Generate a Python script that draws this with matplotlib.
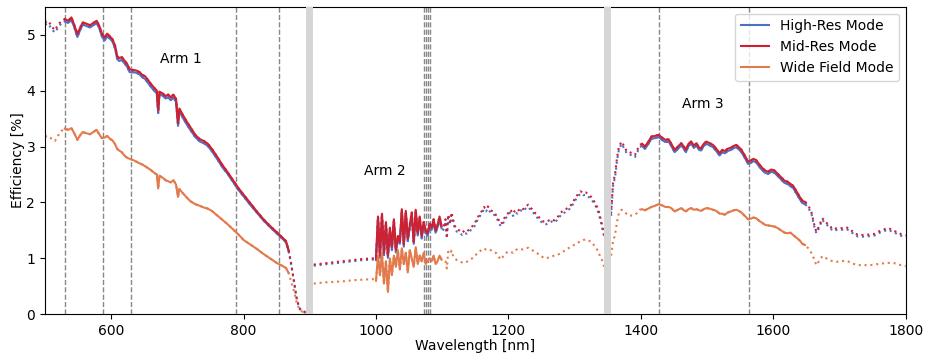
import numpy as np
import matplotlib
matplotlib.use("Agg")
import matplotlib.pyplot as plt

# ---- data ----
wl_arm1 = [500, 505, 510, 515, 520, 525,
           530, 535, 540, 545, 549, 553, 557, 562, 568, 573,
           578, 582, 586, 590, 594, 598, 602, 606, 609, 612,
           616, 620, 624, 628, 633, 638, 643, 647, 651, 655,
           660, 665, 669, 671, 673, 678, 682, 686, 690, 694,
           698, 701, 703, 708, 714, 720, 727, 734, 740, 746,
           752, 760, 768, 776, 784, 792, 800, 810, 820, 830,
           840, 850, 858, 864, 868, 872, 876, 880, 884, 888,
           894]
mid_arm1 = [5.22, 5.25, 5.15, 5.08, 5.18, 5.25,
            5.28, 5.25, 5.31, 5.15, 5.01, 5.12, 5.22, 5.20, 5.17, 5.21,
            5.25, 5.16, 5.02, 4.95, 5.02, 4.97, 4.92, 4.80, 4.62, 4.58,
            4.60, 4.54, 4.48, 4.38, 4.37, 4.36, 4.33, 4.28, 4.26, 4.20,
            4.12, 4.05, 4.00, 3.65, 3.98, 3.95, 3.90, 3.93, 3.88, 3.93,
            3.85, 3.42, 3.68, 3.57, 3.45, 3.34, 3.21, 3.13, 3.10, 3.05,
            2.96, 2.82, 2.67, 2.54, 2.40, 2.26, 2.14, 1.99, 1.84, 1.70,
            1.58, 1.47, 1.38, 1.31, 1.15, 0.90, 0.60, 0.30, 0.12, 0.06,
            0.04]
high_arm1 = [5.18, 5.20, 5.10, 5.04, 5.13, 5.21,
             5.24, 5.21, 5.27, 5.11, 4.96, 5.08, 5.18, 5.16, 5.13, 5.17,
             5.21, 5.12, 4.97, 4.90, 4.97, 4.93, 4.88, 4.75, 4.57, 4.53,
             4.55, 4.49, 4.43, 4.33, 4.33, 4.32, 4.29, 4.24, 4.21, 4.15,
             4.07, 4.00, 3.95, 3.60, 3.94, 3.91, 3.86, 3.88, 3.83, 3.88,
             3.80, 3.37, 3.63, 3.52, 3.40, 3.29, 3.17, 3.09, 3.06, 3.01,
             2.92, 2.78, 2.63, 2.51, 2.37, 2.23, 2.11, 1.96, 1.82, 1.68,
             1.56, 1.45, 1.36, 1.29, 1.13, 0.88, 0.59, 0.29, 0.11, 0.05,
             0.03]
wide_arm1 = [3.18, 3.19, 3.14, 3.10, 3.20, 3.28,
             3.32, 3.30, 3.33, 3.22, 3.12, 3.20, 3.26, 3.24, 3.22, 3.26,
             3.30, 3.22, 3.15, 3.16, 3.19, 3.14, 3.11, 3.04, 2.96, 2.93,
             2.90, 2.84, 2.80, 2.78, 2.76, 2.73, 2.70, 2.68, 2.65, 2.62,
             2.58, 2.53, 2.50, 2.25, 2.48, 2.44, 2.40, 2.38, 2.36, 2.40,
             2.32, 2.10, 2.24, 2.17, 2.09, 2.02, 1.97, 1.94, 1.91, 1.89,
             1.85, 1.77, 1.69, 1.61, 1.52, 1.43, 1.33, 1.25, 1.17, 1.08,
             1.00, 0.92, 0.87, 0.83, 0.74, 0.58, 0.42, 0.22, 0.10, 0.05,
             0.03]

wl_arm2 = [906, 920, 935, 950, 965, 980, 995,
           1000, 1003, 1006, 1009, 1012, 1015, 1018, 1021, 1024, 1027,
           1030, 1033, 1036, 1039, 1042, 1045, 1048, 1051, 1054, 1057,
           1060, 1063, 1066, 1069, 1072, 1075, 1078, 1081, 1084, 1087,
           1090, 1093, 1096, 1099,
           1102, 1105, 1107, 1109, 1112, 1114, 1116, 1119, 1122, 1126,
           1130, 1134, 1137, 1141, 1145, 1149, 1152, 1156, 1160, 1163,
           1166, 1169, 1173, 1177, 1181, 1184, 1188, 1191, 1195, 1199,
           1203, 1207, 1210, 1214, 1218, 1222, 1226, 1230, 1234, 1237,
           1241, 1245, 1249, 1253, 1257, 1261, 1265, 1269, 1273, 1277,
           1281, 1285, 1289, 1293, 1297, 1301, 1305, 1309, 1313, 1317,
           1321, 1325, 1329, 1333, 1337, 1341, 1345]
mid_arm2 = [0.89, 0.91, 0.93, 0.95, 0.97, 0.99, 1.00,
            1.00, 1.75, 1.05, 1.80, 1.10, 1.65, 1.05, 1.55, 1.20, 1.70,
            1.15, 1.40, 1.30, 1.88, 1.25, 1.85, 1.35, 1.60, 1.82, 1.30,
            1.87, 1.45, 1.75, 1.40, 1.65, 1.50, 1.45, 1.62, 1.55, 1.70,
            1.50, 1.60, 1.75, 1.58,
            1.55, 1.70, 1.40, 1.78, 1.65, 1.82, 1.72, 1.58, 1.52, 1.50,
            1.46, 1.50, 1.48, 1.52, 1.57, 1.62, 1.70, 1.78, 1.85, 1.92,
            1.88, 1.93, 1.86, 1.84, 1.78, 1.72, 1.62, 1.64, 1.75, 1.80,
            1.87, 1.80, 1.86, 1.84, 1.90, 1.88, 1.93, 1.96, 1.90, 1.87,
            1.80, 1.75, 1.70, 1.66, 1.65, 1.68, 1.70, 1.68, 1.72, 1.78,
            1.84, 1.86, 1.90, 1.93, 2.00, 2.08, 2.15, 2.20, 2.17, 2.18,
            2.14, 2.10, 2.03, 1.95, 1.82, 1.62, 1.40]
high_arm2 = [0.87, 0.89, 0.91, 0.93, 0.95, 0.97, 0.98,
             0.97, 1.70, 1.01, 1.75, 1.06, 1.60, 1.01, 1.50, 1.15, 1.65,
             1.11, 1.36, 1.26, 1.83, 1.21, 1.80, 1.31, 1.55, 1.77, 1.26,
             1.82, 1.41, 1.70, 1.36, 1.60, 1.46, 1.41, 1.57, 1.51, 1.65,
             1.46, 1.56, 1.70, 1.54,
             1.51, 1.66, 1.36, 1.74, 1.61, 1.78, 1.68, 1.54, 1.48, 1.46,
             1.42, 1.46, 1.44, 1.48, 1.53, 1.58, 1.66, 1.74, 1.81, 1.88,
             1.84, 1.89, 1.82, 1.80, 1.74, 1.68, 1.58, 1.60, 1.71, 1.76,
             1.83, 1.76, 1.82, 1.80, 1.86, 1.84, 1.89, 1.92, 1.86, 1.83,
             1.76, 1.71, 1.66, 1.62, 1.61, 1.64, 1.66, 1.64, 1.68, 1.74,
             1.80, 1.82, 1.86, 1.89, 1.96, 2.04, 2.11, 2.16, 2.13, 2.14,
             2.10, 2.06, 1.99, 1.91, 1.78, 1.58, 1.37]
wide_arm2 = [0.55, 0.57, 0.58, 0.59, 0.61, 0.62, 0.63,
             0.60, 1.05, 0.70, 1.10, 0.55, 0.95, 0.40, 1.00, 0.70, 1.05,
             0.85, 1.15, 0.80, 1.18, 0.90, 1.10, 0.75, 1.15, 1.00, 0.85,
             1.20, 0.90, 1.05, 0.95, 1.10, 0.90, 0.95, 1.00, 0.95, 1.05,
             0.90, 0.95, 1.05, 0.98,
             0.98, 0.95, 0.82, 1.12, 1.08, 1.14, 1.06, 1.00, 0.97, 0.94,
             0.93, 0.95, 0.94, 0.97, 1.00, 1.03, 1.08, 1.12, 1.16, 1.18,
             1.16, 1.17, 1.15, 1.12, 1.10, 1.06, 0.98, 1.02, 1.08, 1.12,
             1.12, 1.10, 1.14, 1.17, 1.17, 1.16, 1.18, 1.19, 1.16, 1.14,
             1.11, 1.08, 1.05, 1.01, 1.00, 1.02, 1.03, 1.05, 1.06, 1.08,
             1.11, 1.14, 1.17, 1.20, 1.23, 1.25, 1.28, 1.31, 1.33, 1.34,
             1.32, 1.30, 1.24, 1.18, 1.08, 0.98, 0.84]

wl_arm3 = [1355, 1358, 1361, 1364, 1367, 1371, 1375, 1379, 1383, 1387,
           1391, 1395, 1398, 1402, 1406, 1411, 1416, 1421, 1427, 1432,
           1437, 1442, 1446, 1451, 1456, 1461, 1465, 1468, 1472, 1476,
           1480, 1484, 1488, 1491, 1495, 1499, 1504, 1509, 1514, 1519,
           1523, 1527, 1531, 1536, 1540, 1544, 1548, 1552, 1557, 1562,
           1566, 1570, 1574, 1579, 1584, 1588, 1592, 1597, 1602, 1607,
           1612, 1617, 1622, 1626, 1630, 1635, 1640, 1644, 1648, 1653,
           1658, 1662, 1665, 1669, 1674, 1679, 1684, 1690, 1696, 1703,
           1710, 1716, 1722, 1728, 1734, 1740, 1746, 1753, 1759, 1765,
           1770, 1775, 1780, 1785, 1790, 1796, 1800]
mid_arm3 = [1.80, 2.35, 2.50, 2.80, 3.00, 3.09, 3.00, 2.91, 2.90, 2.88,
            2.85, 2.95, 3.03, 3.05, 3.00, 3.08, 3.18, 3.19, 3.21, 3.16,
            3.12, 3.13, 3.05, 2.94, 3.00, 3.06, 3.00, 2.94, 3.05, 3.09,
            3.02, 3.06, 2.98, 2.97, 3.05, 3.09, 3.06, 3.03, 2.96, 2.88,
            2.94, 2.92, 2.96, 2.98, 3.01, 3.03, 2.99, 2.94, 2.84, 2.73,
            2.75, 2.78, 2.76, 2.68, 2.61, 2.57, 2.55, 2.59, 2.57, 2.51,
            2.45, 2.39, 2.37, 2.33, 2.30, 2.20, 2.10, 2.03, 2.01, 1.95,
            1.81, 1.60, 1.48, 1.57, 1.72, 1.65, 1.60, 1.52, 1.54, 1.54,
            1.56, 1.52, 1.46, 1.42, 1.42, 1.42, 1.43, 1.44, 1.48, 1.51,
            1.53, 1.54, 1.50, 1.48, 1.45, 1.42, 1.41]
high_arm3 = [1.76, 2.30, 2.45, 2.75, 2.95, 3.05, 2.96, 2.87, 2.86, 2.84,
             2.81, 2.91, 2.99, 3.01, 2.96, 3.04, 3.14, 3.15, 3.17, 3.12,
             3.08, 3.09, 3.01, 2.90, 2.96, 3.02, 2.96, 2.90, 3.01, 3.05,
             2.98, 3.02, 2.94, 2.93, 3.01, 3.05, 3.02, 2.99, 2.92, 2.84,
             2.90, 2.88, 2.92, 2.94, 2.97, 2.99, 2.95, 2.90, 2.80, 2.69,
             2.71, 2.74, 2.72, 2.64, 2.57, 2.53, 2.51, 2.55, 2.53, 2.47,
             2.41, 2.35, 2.33, 2.29, 2.26, 2.16, 2.06, 1.99, 1.97, 1.91,
             1.78, 1.57, 1.45, 1.54, 1.69, 1.62, 1.57, 1.49, 1.51, 1.51,
             1.53, 1.49, 1.43, 1.39, 1.39, 1.39, 1.40, 1.41, 1.45, 1.48,
             1.50, 1.51, 1.47, 1.45, 1.42, 1.39, 1.38]
wide_arm3 = [1.05, 1.30, 1.42, 1.65, 1.82, 1.87, 1.84, 1.79, 1.76, 1.77,
             1.78, 1.82, 1.87, 1.88, 1.86, 1.89, 1.92, 1.94, 1.97, 1.95,
             1.92, 1.92, 1.90, 1.84, 1.87, 1.90, 1.86, 1.84, 1.88, 1.90,
             1.87, 1.88, 1.86, 1.85, 1.88, 1.90, 1.89, 1.87, 1.85, 1.80,
             1.80, 1.78, 1.82, 1.84, 1.86, 1.87, 1.85, 1.82, 1.76, 1.70,
             1.71, 1.73, 1.72, 1.67, 1.63, 1.60, 1.59, 1.58, 1.57, 1.54,
             1.50, 1.46, 1.45, 1.46, 1.42, 1.37, 1.32, 1.26, 1.24, 1.18,
             1.09, 0.98, 0.88, 0.95, 1.04, 1.01, 0.97, 0.95, 0.94, 0.95,
             0.96, 0.93, 0.90, 0.88, 0.88, 0.88, 0.88, 0.89, 0.90, 0.91,
             0.92, 0.92, 0.92, 0.91, 0.89, 0.87, 0.86]

# science ranges drawn solid, rest dotted
arm_ranges = [(530, 868), (1000, 1099), (1402, 1648)]
arm_names = ["Arm 1", "Arm 2", "Arm 3"]
arm_label_pos = [(705, 4.56), (1014, 2.57), (1494, 3.77)]
order_lines = [530, 588, 630, 789, 854, 1072, 1075, 1078, 1081, 1428, 1564]
gaps = [(895, 905), (1345, 1355)]

modes = ["High-Res Mode", "Mid-Res Mode", "Wide Field Mode"]
colors = ["#4f6fc6", "#cf2030", "#e37a4c"]

arms = [
    (wl_arm1, [high_arm1, mid_arm1, wide_arm1]),
    (wl_arm2, [high_arm2, mid_arm2, wide_arm2]),
    (wl_arm3, [high_arm3, mid_arm3, wide_arm3]),
]

fig, ax = plt.subplots(figsize=(9.27, 3.56), dpi=100)
fig.subplots_adjust(left=0.0485, right=0.977, top=0.981, bottom=0.117)

for (wl, series), (lo, hi) in zip(arms, arm_ranges):
    wl = np.array(wl)
    inside = (wl >= lo) & (wl <= hi)
    for k, eff in enumerate(series):
        eff = np.array(eff)
        assert len(eff) == len(wl)
        ax.plot(wl, eff, ls=(0, (1, 1.8)), lw=1.5, color=colors[k], zorder=2)
        ax.plot(wl[inside], eff[inside], ls="-", lw=1.5, color=colors[k],
                label=modes[k] if lo == arm_ranges[0][0] else None, zorder=2)

for x in order_lines:
    ax.axvline(x, color="#888888", ls="--", lw=1, zorder=1)
for a, b in gaps:
    ax.axvspan(a, b, color="#d6d6d6", lw=0, zorder=3)

for name, (x, y) in zip(arm_names, arm_label_pos):
    ax.text(x, y, name, ha="center", va="center", fontsize=10)

ax.set_xlim(500, 1800)
ax.set_ylim(0, 5.5)
ax.set_xlabel("Wavelength [nm]", labelpad=1)
ax.set_ylabel("Efficiency [%]", labelpad=1)
ax.legend(loc="upper right")

fig.savefig("out.png", dpi=100)
